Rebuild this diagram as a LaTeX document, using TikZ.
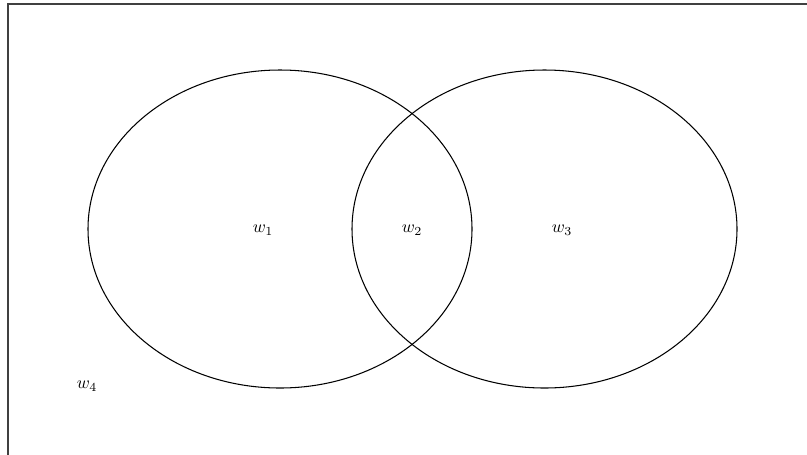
\documentclass[tikz,border=0pt]{standalone}
\usepackage{amsmath}
\usepackage{amssymb}
\usepackage{tikz}
\usetikzlibrary{shapes.geometric}

\begin{document}
\begin{tikzpicture}
                \useasboundingbox (0,0) rectangle (16.14,-9.08);
                % Frame
                \draw[line width=0.8pt, black!75] (0.16,-0.08) rectangle (16.5,-9.13);

                % Sets
                \node[ellipse, draw, semithick, inner sep=0pt, minimum width=7.68cm, minimum height=6.36cm] (A) at (5.6,-4.58) {};
                \node[ellipse, draw, semithick, inner sep=0pt, minimum width=7.7cm, minimum height=6.36cm] (B) at (10.89,-4.58) {};

                % Labels
                \node (w1) at (5.26,-4.6) {$w_1$};
                \node (w2) at (8.24,-4.6) {$w_2$};
                \node (w3) at (11.24,-4.6) {$w_3$};
                \node (w4) at (1.74,-7.72) {$w_4$};
            \end{tikzpicture}
\end{document}
